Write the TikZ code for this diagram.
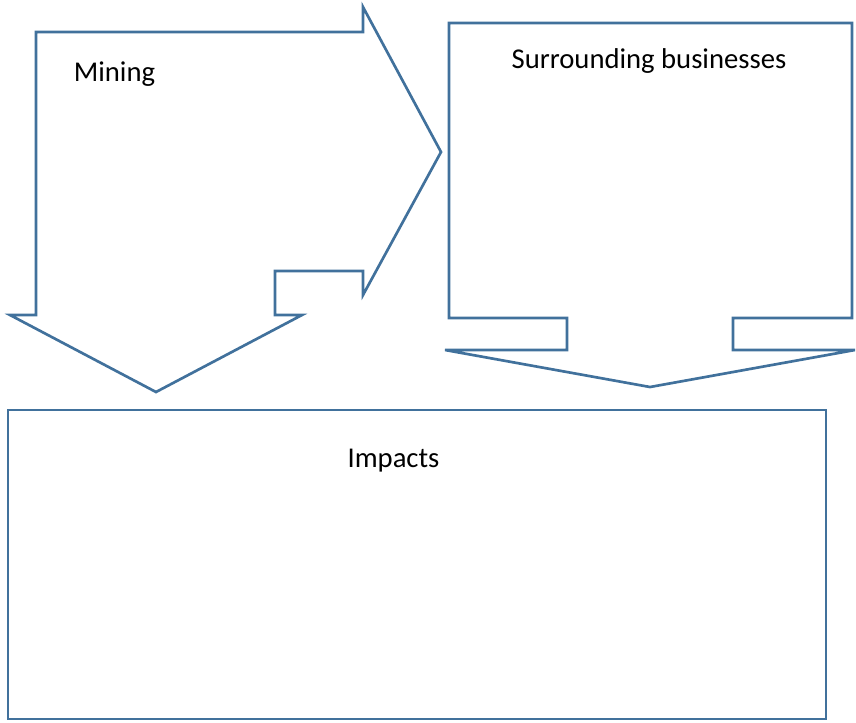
\documentclass[tikz,border=0pt]{standalone}
\usepackage{fontspec}
\setmainfont{Carlito}
\definecolor{outlineblue}{HTML}{41719C}
\begin{document}
\begin{tikzpicture}[x=0.75pt,y=-0.75pt,
    outline/.style={draw=outlineblue, line width=2pt, line join=miter},
    boxtext/.style={font=\fontsize{21.5}{26}\selectfont, inner sep=0pt, anchor=base}]
  \useasboundingbox (0,0) rectangle (856,722);
  % mining: arrow to the right and arrow down in one outline
  \draw[outline] (36,32) -- (363,32) -- (363,7) -- (441,152) -- (363,295)
    -- (363,271) -- (275,271) -- (275,315) -- (302,315) -- (156,392)
    -- (10,315) -- (36,315) -- cycle;
  \node[boxtext] (mining) at (114.5,81) {Mining};
  % surrounding businesses: box with a down arrow under it
  \draw[outline] (449,23) -- (852,23) -- (852,318) -- (733,318) -- (733,350)
    -- (855,350) -- (650,387) -- (445,350) -- (567,350) -- (567,318)
    -- (449,318) -- cycle;
  \node[boxtext] (business) at (649,68) {Surrounding businesses};
  % impacts
  \draw[outline] (8,410) rectangle (826,719);
  \node[boxtext] (impacts) at (393.5,467) {Impacts};
\end{tikzpicture}
\end{document}
